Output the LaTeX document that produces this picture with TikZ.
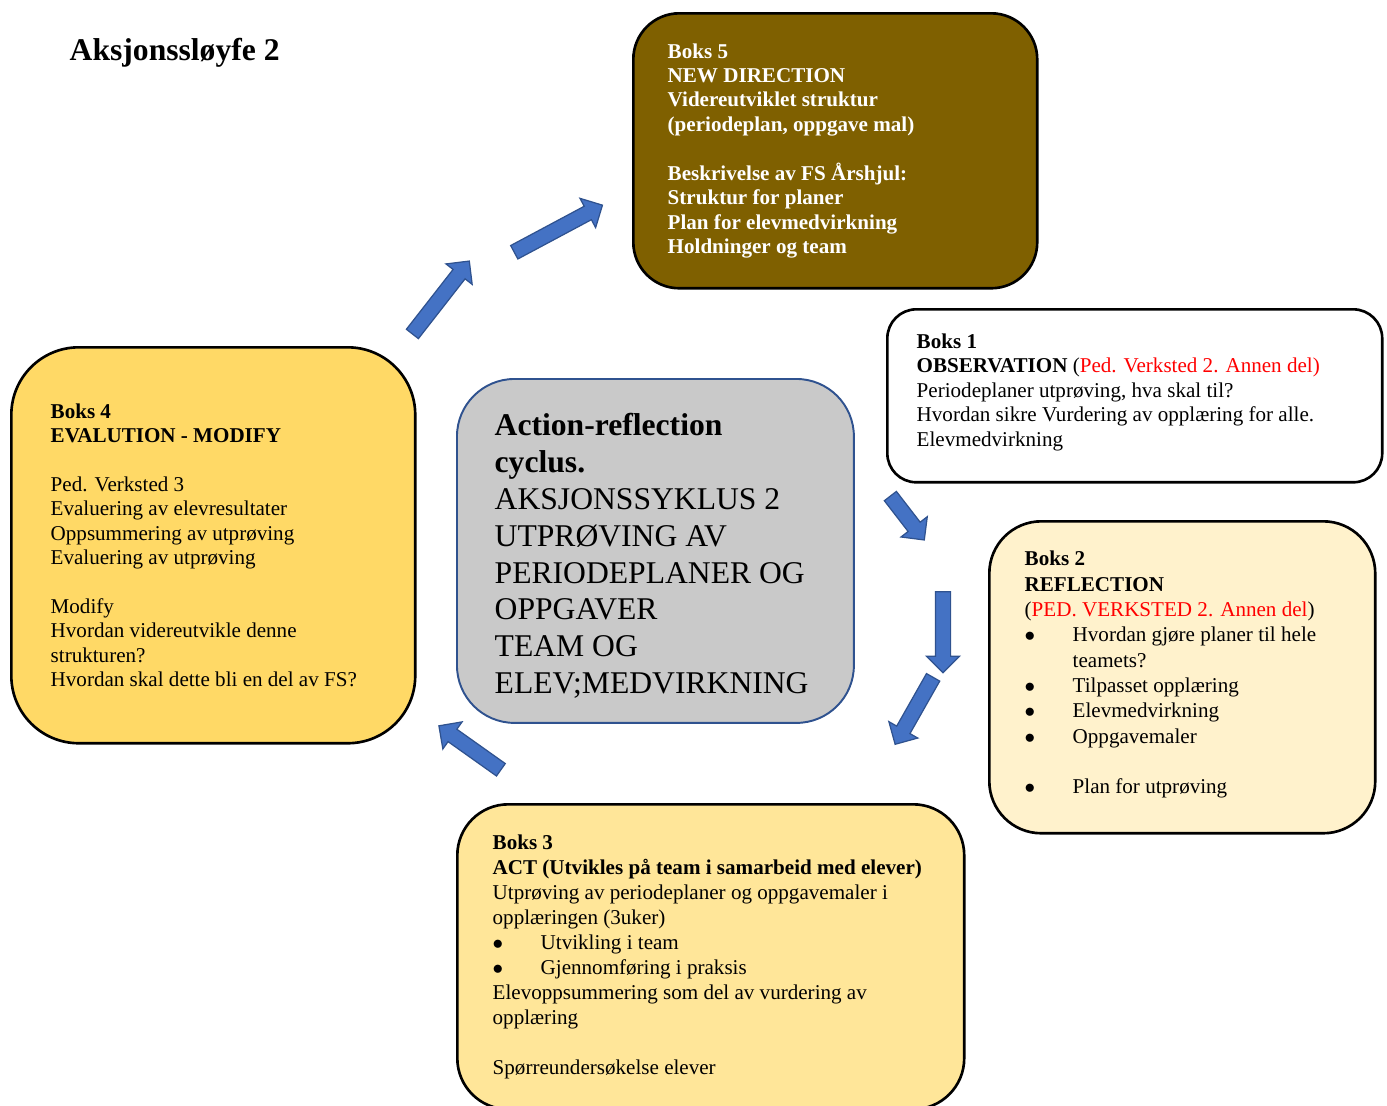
\documentclass[tikz,border=0pt]{standalone}
\usepackage{fontspec}
\setmainfont{Liberation Serif}
\usepackage{xcolor}
\usetikzlibrary{shapes.arrows}

\definecolor{darkolive}{HTML}{7F6000}
\definecolor{palecream}{HTML}{FFF2CC}
\definecolor{sand}{HTML}{FFE699}
\definecolor{gold}{HTML}{FFD966}
\definecolor{cyclegray}{HTML}{C9C9C9}
\definecolor{cycleedge}{HTML}{2F528F}
\definecolor{arrowblue}{HTML}{4472C4}
\definecolor{red}{HTML}{FF0000}

% bullet with hanging indent
\newcommand{\bul}{\makebox[0.96cm][l]{$\bullet$}}

\begin{document}
\begin{tikzpicture}[x=0.02cm, y=-0.02cm, thick,
    boks/.style={draw=black, line width=1.5pt, anchor=north west, inner sep=0pt},
    boxtext/.style={inner sep=0pt, align=left, anchor=west, font=\fontsize{12}{13.9}\selectfont},
    blockarrow/.style={single arrow, draw=cycleedge, fill=arrowblue, line width=0.7pt,
      inner xsep=0pt, inner ysep=0.14cm, single arrow head extend=0.18cm,
      midway, sloped, allow upside down}]
        \useasboundingbox (0,0) rectangle (1387,1106);

        % Title
        \node[font=\fontsize{18}{21}\selectfont\bfseries, anchor=west, inner sep=0pt] (title) at (69,53) {Aksjonssløyfe 2};

        % Boxes
        \node[boks, fill=darkolive, minimum width=8.08cm, minimum height=5.50cm, rounded corners=0.92cm] (b5) at (632,12) {};
        \node[boks, fill=white, minimum width=9.90cm, minimum height=3.46cm, rounded corners=0.58cm] (b1) at (886,308) {};
        \node[boks, fill=palecream, minimum width=7.72cm, minimum height=6.24cm, rounded corners=1.04cm] (b2) at (988,520) {};
        \node[boks, fill=sand, minimum width=10.14cm, minimum height=6.10cm, rounded corners=1.02cm] (b3) at (456,803) {};
        \node[boks, fill=gold, minimum width=8.08cm, minimum height=7.92cm, rounded corners=1.35cm] (b4) at (10,346) {};
        \node[boks, draw=cycleedge, line width=1.1pt, fill=cyclegray, minimum width=7.94cm, minimum height=6.88cm, rounded corners=1.15cm] (ctr) at (456,378) {};

        % Box texts
        \node[boxtext, text=white, font=\fontsize{12}{13.9}\selectfont\bfseries] (t5) at ([xshift=0.70cm]b5.west)
          {Boks 5\\ NEW DIRECTION\\ Videreutviklet struktur\\ (periodeplan, oppgave mal)\\[\baselineskip]
           Beskrivelse av FS Årshjul:\\ Struktur for planer\\ Plan for elevmedvirkning\\ Holdninger og team};
        \node[boxtext] (t1) at ([xshift=0.60cm, yshift=0.07cm]b1.west)
          {\textbf{Boks 1}\\ \textbf{OBSERVATION} (\textcolor{red}{Ped. Verksted 2. Annen del)}\\
           Periodeplaner utprøving, hva skal til?\\ Hvordan sikre Vurdering av opplæring for alle.\\ Elevmedvirkning};
        \node[boxtext, font=\fontsize{12}{14.4}\selectfont] (t2) at ([xshift=0.72cm, yshift=0.05cm]b2.west)
          {\textbf{Boks 2}\\ \textbf{REFLECTION}\\ (\textcolor{red}{PED. VERKSTED 2. Annen del})\\
           \bul Hvordan gjøre planer til hele\\ \hspace*{0.96cm}teamets?\\ \bul Tilpasset opplæring\\
           \bul Elevmedvirkning\\ \bul Oppgavemaler\\[\baselineskip] \bul Plan for utprøving};
        \node[boxtext, font=\fontsize{12}{14.2}\selectfont] (t3) at ([xshift=0.72cm]b3.west)
          {\textbf{Boks 3}\\ \textbf{ACT (Utvikles på team i samarbeid med elever)}\\
           Utprøving av periodeplaner og oppgavemaler i\\ opplæringen (3uker)\\
           \bul Utvikling i team\\ \bul Gjennomføring i praksis\\
           Elevoppsummering som del av vurdering av\\ opplæring\\[\baselineskip] Spørreundersøkelse elever};
        \node[boxtext] (t4) at ([xshift=0.80cm]b4.west)
          {\textbf{Boks 4}\\ \textbf{EVALUTION - MODIFY}\\[\baselineskip]
           Ped. Verksted 3\\ Evaluering av elevresultater\\ Oppsummering av utprøving\\ Evaluering av utprøving\\[\baselineskip]
           Modify\\ Hvordan videreutvikle denne\\ strukturen?\\ Hvordan skal dette bli en del av FS?};
        \node[boxtext, font=\fontsize{18}{21}\selectfont] (tc) at ([xshift=0.76cm, yshift=-0.10cm]ctr.west)
          {\textbf{Action-reflection}\\ \textbf{cyclus.}\\ AKSJONSSYKLUS 2\\ UTPRØVING AV\\
           PERIODEPLANER OG\\ OPPGAVER\\ TEAM OG\\ ELEV;MEDVIRKNING};

        % Arrow end points
        \coordinate (p1) at (410,337); \coordinate (q1) at (467,264);
        \coordinate (p2) at (511,254); \coordinate (q2) at (599,207);
        \coordinate (p3) at (888,493); \coordinate (q3) at (922,537);
        \coordinate (p4) at (943,588); \coordinate (q4) at (943,669);
        \coordinate (p5) at (935,674); \coordinate (q5) at (897,741);
        \coordinate (p6) at (504,772); \coordinate (q6) at (442,728);

        % Block arrows
        \path (p1) -- (q1) node[blockarrow, minimum height=1.85cm] (a1) {};
        \path (p2) -- (q2) node[blockarrow, minimum height=2.00cm] (a2) {};
        \path (p3) -- (q3) node[blockarrow, minimum height=1.11cm] (a3) {};
        \path (p4) -- (q4) node[blockarrow, minimum height=1.62cm] (a4) {};
        \path (p5) -- (q5) node[blockarrow, minimum height=1.54cm] (a5) {};
        \path (p6) -- (q6) node[blockarrow, minimum height=1.52cm] (a6) {};
      \end{tikzpicture}
\end{document}
